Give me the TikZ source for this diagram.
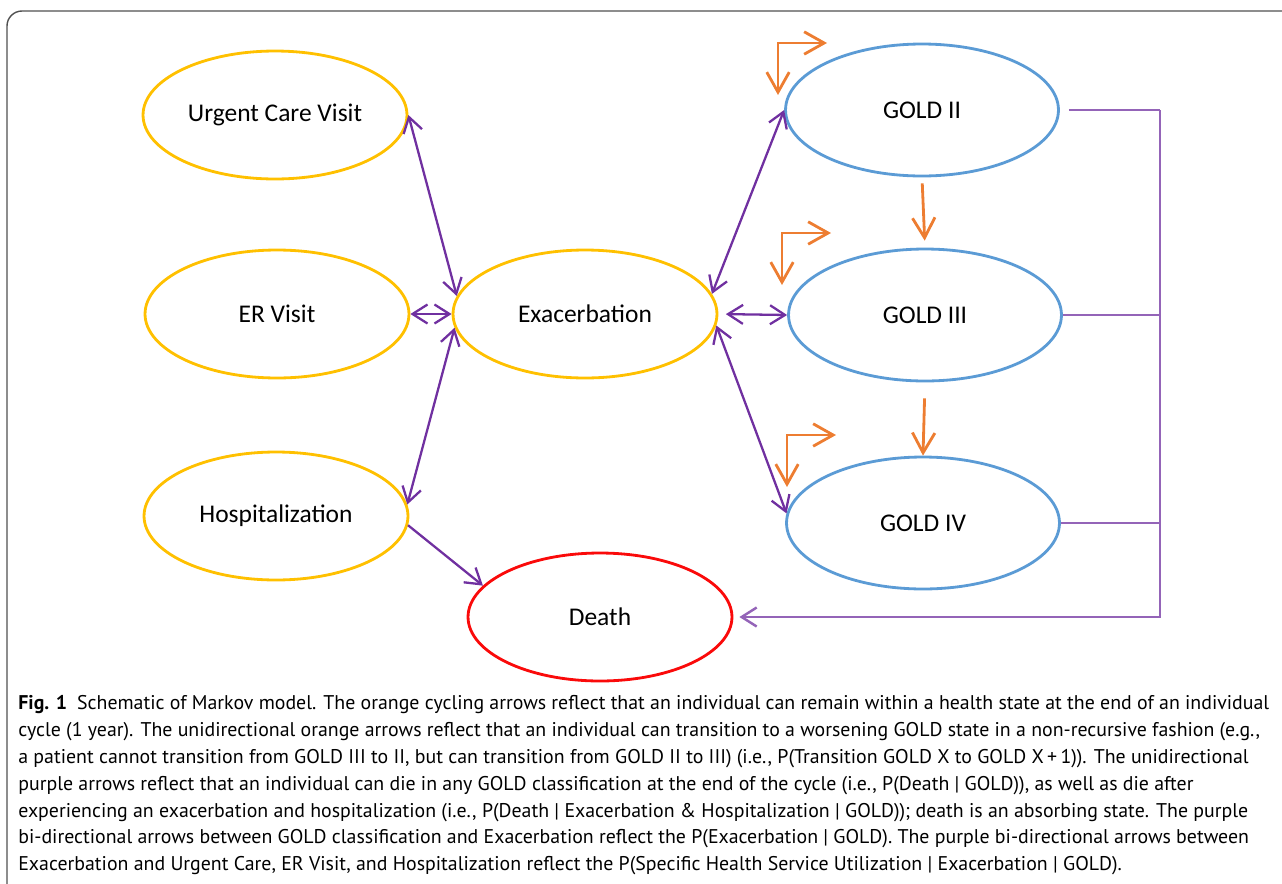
\documentclass[tikz,border=0pt]{standalone}
\usepackage{fontspec}
\setmainfont{PT Sans}
\newfontfamily\statefont{Carlito}
\usepackage{xcolor}
\definecolor{stgold}{RGB}{255,192,0}
\definecolor{stblue}{RGB}{91,155,213}
\definecolor{stred}{RGB}{250,10,10}
\definecolor{stpurple}{RGB}{112,48,160}
\definecolor{storange}{RGB}{237,125,49}
\definecolor{framegray}{RGB}{80,80,80}
\usetikzlibrary{arrows.meta, shapes.geometric, calc}

\begin{document}
\begin{tikzpicture}[
  x=0.02cm, y=-0.02cm,
  state/.style={ellipse, draw=stgold, line width=1.6pt, inner sep=0pt,
                minimum width=5.28cm, minimum height=2.56cm,
                font=\statefont\fontsize{14.5}{17}\selectfont},
  goldstate/.style={state, draw=stblue, minimum width=5.46cm, minimum height=2.64cm},
  deadstate/.style={state, draw=stred},
  biarr/.style={{Straight Barb[length=0.3cm, width=0.38cm]}-{Straight Barb[length=0.3cm, width=0.38cm]},
                line width=1.3pt, color=stpurple},
  arr/.style={-{Straight Barb[length=0.3cm, width=0.38cm]}, line width=1.3pt, color=stpurple},
  bus/.style={line width=1.4pt, color=stpurple!75},
  worse/.style={-{Straight Barb[length=0.4cm, width=0.45cm]}, line width=1.6pt, color=storange},
  stayloop/.style={worse, {Straight Barb[length=0.4cm, width=0.45cm]}-{Straight Barb[length=0.4cm, width=0.45cm]}},
  caption/.style={anchor=north west, align=left, inner sep=0pt,
                  font=\fontsize{11.3}{15.3}\selectfont}
]
  \useasboundingbox (0,0) rectangle (1282,883);
  % Frame
  \draw[framegray, line width=0.8pt, rounded corners=0.3cm] (1300,11) -- (7,11) -- (7,900);

  % Service states
  \node[state] (urgent) at (275,115) {Urgent Care Visit};
  \node[state] (er) at (277,314) {ER Visit};
  \node[state] (hosp) at (276,516) {Hospitalization};
  \node[state] (exac) at (585,314) {Exacerbation};
  \node[deadstate] (death) at (600,617) {Death};
  % GOLD states
  \node[goldstate] (gold2) at (922,110) {GOLD II};
  \node[goldstate] (gold3) at (925,315) {GOLD III};
  \node[goldstate] (gold4) at (923,523) {GOLD IV};

  % Purple arrows
  \draw[biarr] (urgent.east) -- (exac.172);
  \draw[biarr] (er.east) -- (exac.west);
  \draw[biarr] (hosp.5) -- (exac.186);
  \draw[arr] (hosp.-4) -- (death.165);
  \draw[biarr] (exac.9) -- (gold2.west);
  \draw[biarr, shorten <=0.15cm] (exac.east) -- (gold3.west);
  \draw[biarr] (exac.-5) -- (gold4.176);

  % Orange worsening arrows
  \draw[worse, shorten <=0.12cm, shorten >=0.14cm] (gold2.south) -- (gold3.north);
  \draw[worse, shorten <=0.32cm] (gold3.south) -- (gold4.north);
  % Orange cycling arrows
  \foreach \g/\cx/\cy in {2/778/43, 3/782/233, 4/787/435} {
    \coordinate (loop\g) at (\cx,\cy);
    \draw[stayloop] ([shift={(0,52)}]loop\g) -- (loop\g) -- ([shift={(49,0)}]loop\g);
  }

  % Death bus
  \coordinate (busx) at (1160,0);
  \draw[bus, shorten <=0.18cm] (gold2.east) -- (gold2.east -| busx);
  \draw[bus] (gold3.east) -- (gold3.east -| busx);
  \draw[bus] (gold4.east) -- (gold4.east -| busx);
  \draw[bus, -{Straight Barb[length=0.3cm, width=0.38cm]}, shorten >=0.12cm]
    (gold2.east -| busx) |- (death.east);

  % Caption
  \node[caption] (cap) at (18,695) {%
    \textbf{Fig. 1}\hspace{0.5em}Schematic of Markov model. The orange cycling arrows reflect that an individual can remain within a health state at the end of an individual\\
    cycle (1 year). The unidirectional orange arrows reflect that an individual can transition to a worsening GOLD state in a non-recursive fashion (e.g.,\\
    a patient cannot transition from GOLD III to II, but can transition from GOLD II to III) (i.e., P(Transition GOLD X to GOLD X\,+\,1)). The unidirectional\\
    purple arrows reflect that an individual can die in any GOLD classification at the end of the cycle (i.e., P(Death | GOLD)), as well as die after\\
    experiencing an exacerbation and hospitalization (i.e., P(Death | Exacerbation \& Hospitalization | GOLD)); death is an absorbing state. The purple\\
    bi-directional arrows between GOLD classification and Exacerbation reflect the P(Exacerbation | GOLD). The purple bi-directional arrows between\\
    Exacerbation and Urgent Care, ER Visit, and Hospitalization reflect the P(Specific Health Service Utilization | Exacerbation | GOLD).};
\end{tikzpicture}
\end{document}
